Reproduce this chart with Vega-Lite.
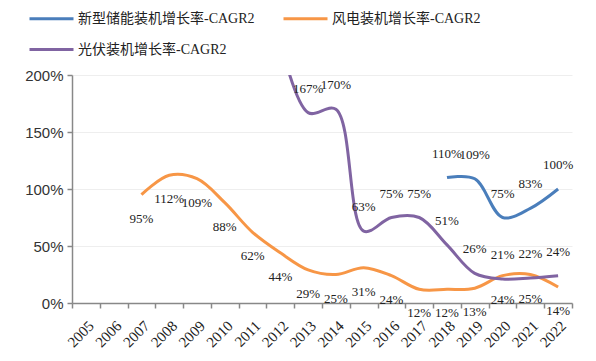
{
  "$schema": "https://vega.github.io/schema/vega-lite/v6.json",
  "width": 500,
  "height": 228,
  "autosize": "none",
  "padding": {"left": 72, "top": 75, "right": 24, "bottom": 58},
  "background": "white",
  "config": {
    "view": {"stroke": null},
    "font": "Liberation Serif",
    "legend": {
      "orient": "none",
      "direction": "horizontal",
      "legendX": -44,
      "legendY": -80,
      "columns": 2,
      "symbolType": "stroke",
      "symbolSize": 1936,
      "symbolStrokeWidth": 3,
      "labelFont": "Liberation Serif, Noto Sans CJK SC",
      "labelFontSize": 14,
      "labelColor": "#222",
      "labelOffset": 3,
      "labelLimit": 400,
      "columnPadding": 22,
      "rowPadding": -38,
      "title": null
    }
  },
  "data": {
    "values": [
      {"year": 2018, "s": "新型储能装机增长率-CAGR2", "v": 1.10},
      {"year": 2019, "s": "新型储能装机增长率-CAGR2", "v": 1.09},
      {"year": 2020, "s": "新型储能装机增长率-CAGR2", "v": 0.75},
      {"year": 2021, "s": "新型储能装机增长率-CAGR2", "v": 0.83},
      {"year": 2022, "s": "新型储能装机增长率-CAGR2", "v": 1.00},
      {"year": 2007, "s": "风电装机增长率-CAGR2", "v": 0.95},
      {"year": 2008, "s": "风电装机增长率-CAGR2", "v": 1.12},
      {"year": 2009, "s": "风电装机增长率-CAGR2", "v": 1.09},
      {"year": 2010, "s": "风电装机增长率-CAGR2", "v": 0.88},
      {"year": 2011, "s": "风电装机增长率-CAGR2", "v": 0.62},
      {"year": 2012, "s": "风电装机增长率-CAGR2", "v": 0.44},
      {"year": 2013, "s": "风电装机增长率-CAGR2", "v": 0.29},
      {"year": 2014, "s": "风电装机增长率-CAGR2", "v": 0.25},
      {"year": 2015, "s": "风电装机增长率-CAGR2", "v": 0.31},
      {"year": 2016, "s": "风电装机增长率-CAGR2", "v": 0.24},
      {"year": 2017, "s": "风电装机增长率-CAGR2", "v": 0.12},
      {"year": 2018, "s": "风电装机增长率-CAGR2", "v": 0.12},
      {"year": 2019, "s": "风电装机增长率-CAGR2", "v": 0.13},
      {"year": 2020, "s": "风电装机增长率-CAGR2", "v": 0.24},
      {"year": 2021, "s": "风电装机增长率-CAGR2", "v": 0.25},
      {"year": 2022, "s": "风电装机增长率-CAGR2", "v": 0.14},
      {"year": 2012, "s": "光伏装机增长率-CAGR2", "v": 2.30},
      {"year": 2013, "s": "光伏装机增长率-CAGR2", "v": 1.67},
      {"year": 2014, "s": "光伏装机增长率-CAGR2", "v": 1.70},
      {"year": 2015, "s": "光伏装机增长率-CAGR2", "v": 0.63},
      {"year": 2016, "s": "光伏装机增长率-CAGR2", "v": 0.75},
      {"year": 2017, "s": "光伏装机增长率-CAGR2", "v": 0.75},
      {"year": 2018, "s": "光伏装机增长率-CAGR2", "v": 0.51},
      {"year": 2019, "s": "光伏装机增长率-CAGR2", "v": 0.26},
      {"year": 2020, "s": "光伏装机增长率-CAGR2", "v": 0.21},
      {"year": 2021, "s": "光伏装机增长率-CAGR2", "v": 0.22},
      {"year": 2022, "s": "光伏装机增长率-CAGR2", "v": 0.24}
    ]
  },
  "encoding": {
    "x": {
      "field": "year",
      "type": "ordinal",
      "scale": {
        "type": "band",
        "domain": [2005, 2006, 2007, 2008, 2009, 2010, 2011, 2012, 2013, 2014, 2015, 2016, 2017, 2018, 2019, 2020, 2021, 2022],
        "paddingInner": 0,
        "paddingOuter": 0
      },
      "axis": {
        "title": null,
        "tickBand": "extent",
        "labelAngle": -45,
        "labelFont": "Liberation Serif",
        "labelFontSize": 15,
        "labelColor": "#222",
        "labelPadding": 10,
        "domainColor": "#888",
        "domainWidth": 1.5,
        "tickColor": "#888",
        "tickWidth": 1.5,
        "tickSize": 5,
        "grid": false
      }
    },
    "y": {
      "field": "v",
      "type": "quantitative",
      "scale": {"domain": [0, 2], "nice": false},
      "axis": {
        "title": null,
        "values": [0, 0.5, 1, 1.5, 2],
        "format": ".0%",
        "labelFont": "Liberation Sans",
        "labelFontSize": 15,
        "labelColor": "#333",
        "labelPadding": 4,
        "domainColor": "#888",
        "domainWidth": 1.5,
        "tickColor": "#888",
        "tickWidth": 1.5,
        "tickSize": 5,
        "gridColor": "#eeeeee",
        "gridWidth": 1
      }
    }
  },
  "layer": [
    {
      "mark": {"type": "line", "interpolate": "catmull-rom", "strokeWidth": 3, "clip": true},
      "encoding": {
        "color": {
          "field": "s",
          "type": "nominal",
          "scale": {
            "domain": ["新型储能装机增长率-CAGR2", "风电装机增长率-CAGR2", "光伏装机增长率-CAGR2"],
            "range": ["#4a7ebb", "#f79646", "#8064a2"]
          }
        }
      }
    },
    {
      "transform": [{"filter": "datum.s === '风电装机增长率-CAGR2'"}],
      "mark": {"type": "text", "dy": 24, "font": "Liberation Serif", "fontSize": 13, "color": "#222"},
      "encoding": {"text": {"field": "v", "type": "quantitative", "format": ".0%"}}
    },
    {
      "transform": [{"filter": "datum.s !== '风电装机增长率-CAGR2' && datum.v <= 2"}],
      "mark": {"type": "text", "dy": -24, "font": "Liberation Serif", "fontSize": 13, "color": "#222"},
      "encoding": {"text": {"field": "v", "type": "quantitative", "format": ".0%"}}
    }
  ]
}
